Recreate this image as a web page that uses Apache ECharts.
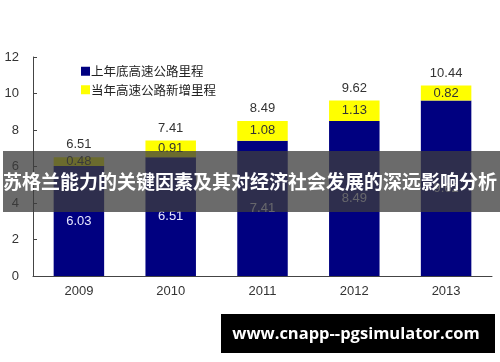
<!DOCTYPE html>
<html><head><meta charset="utf-8">
<script src="https://cdn.jsdelivr.net/npm/echarts@6/dist/echarts.min.js"></script>
<style>html,body{margin:0;padding:0;background:#fff}#c{width:500px;height:362px}</style>
</head><body><div id="c"></div>
<script>
var categories = ['2009','2010','2011','2012','2013'];
var baseValues = [6.03, 6.51, 7.41, 8.49, 9.62];
var addedValues = [0.48, 0.91, 1.08, 1.13, 0.82];
var totalValues = [6.51, 7.41, 8.49, 9.62, 10.44];
var seriesNames = ['上年底高速公路里程', '当年高速公路新增里程'];
var bannerText = '苏格兰能力的关键因素及其对经济社会发展的深远影响分析';
var urlText = 'www.cnapp--pgsimulator.com';

var chart = echarts.init(document.getElementById('c'));
var font = '"Liberation Sans", Arial, "Noto Sans CJK SC", sans-serif';
chart.setOption({
  animation: false,
  textStyle: {fontFamily: font},
  grid: {left: 33, right: 8, top: 57, bottom: 86},
  legend: {
    data: seriesNames, orient: 'vertical', left: 76, top: 60,
    itemWidth: 9, itemHeight: 9, itemGap: 6, icon: 'rect',
    textStyle: {fontSize: 12.5, color: '#222', fontFamily: '"Noto Sans CJK SC", sans-serif', padding: [0,0,0,-4]}
  },
  xAxis: {
    type: 'category', data: categories,
    axisLine: {lineStyle: {color: '#444', width: 1}},
    axisTick: {inside: true, length: 4, lineStyle: {color: '#444'}},
    axisLabel: {fontSize: 13, color: '#333', margin: 9}
  },
  yAxis: {
    type: 'value', min: 0, max: 12, interval: 2,
    axisLine: {show: true, lineStyle: {color: '#444', width: 1}},
    axisTick: {show: true, inside: true, length: 4, lineStyle: {color: '#444'}},
    splitLine: {show: false},
    axisLabel: {fontSize: 13, color: '#333', margin: 14}
  },
  series: [
    {name: seriesNames[0], type: 'bar', stack: 's', data: baseValues, barWidth: '55%',
      itemStyle: {color: '#000080'},
      label: {show: true, position: 'inside', color: '#e8e8ff', fontSize: 13}},
    {name: seriesNames[1], type: 'bar', stack: 's', data: addedValues,
      itemStyle: {color: '#ffff00'},
      label: {show: true, position: 'inside', color: '#333', fontSize: 13}},
    {name: 'total', type: 'bar', data: totalValues, barGap: '-100%', barWidth: '55%',
      itemStyle: {color: 'rgba(0,0,0,0)'}, silent: true,
      label: {show: true, position: 'top', color: '#333', fontSize: 13, distance: 6}}
  ],
  graphic: [
    {type: 'rect', z: 100, shape: {x: 3, y: 151, width: 497, height: 61}, style: {fill: 'rgba(60,60,60,0.76)'}},
    {type: 'text', z: 101, x: 250, y: 182, style: {text: bannerText, fill: '#fff', fontSize: 19, fontWeight: 'bold', fontFamily: '"Noto Sans CJK SC", sans-serif', align: 'center', verticalAlign: 'middle'}},
    {type: 'rect', z: 100, shape: {x: 221, y: 314, width: 274, height: 39}, style: {fill: '#000'}},
    {type: 'text', z: 101, x: 356, y: 334, style: {text: urlText, fill: '#fff', fontSize: 16.5, fontWeight: 'bold', fontFamily: '"Open Sans", "DejaVu Sans", sans-serif', align: 'center', verticalAlign: 'middle'}}
  ]
});
</script></body></html>
